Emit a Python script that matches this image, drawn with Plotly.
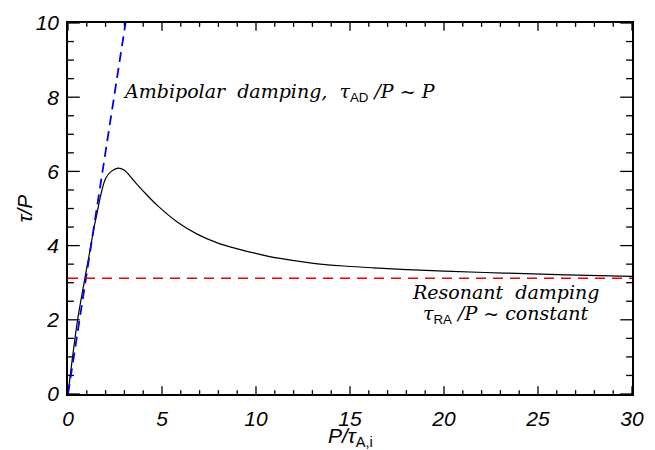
import plotly.graph_objects as go

# Data
curve_x = [0, 0.26, 0.52, 0.82, 1.13, 1.48, 2.0, 2.3, 2.66, 3.0, 3.5, 4.0, 4.78, 5.83,
           6.87, 7.91, 8.96, 10.0, 11.2, 12.96, 14.7, 16.26, 18.0, 20.0, 23.2, 26.5, 30.0]
curve_y = [0, 1.07, 2.03, 2.9, 3.76, 4.72, 5.81, 6.0, 6.09, 6.03, 5.75, 5.47, 5.07, 4.63,
           4.31, 4.08, 3.92, 3.79, 3.66, 3.53, 3.45, 3.40, 3.355, 3.31, 3.26, 3.21, 3.17]
ambipolar_x = [0, 3.06]
ambipolar_y = [0, 10]
resonant_x = [0, 30]
resonant_y = [3.12, 3.12]

x_range = [0, 30]
y_range = [0, 10]
x_major, x_minor = 5, 1
y_major, y_minor = 2, 0.5

SANS = "Liberation Sans"
SERIF = "DejaVu Serif"

W, H = 655, 450
M = dict(l=68, r=14, t=11, b=56)
px_per_x = (W - M["l"] - M["r"]) / (x_range[1] - x_range[0])
px_per_y = (H - M["t"] - M["b"]) / (y_range[1] - y_range[0])

fig = go.Figure()

# Inward tick marks on all four sides (IDL style), built from the axis ranges and tick steps
tx, ty = [], []
n_x = int(round((x_range[1] - x_range[0]) / x_minor))
for i in range(n_x + 1):
    v = x_range[0] + i * x_minor
    ln = (8 if i % int(x_major / x_minor) == 0 else 4) / px_per_y
    tx += [v, v, None, v, v, None]
    ty += [y_range[0], y_range[0] + ln, None, y_range[1], y_range[1] - ln, None]
n_y = int(round((y_range[1] - y_range[0]) / y_minor))
for i in range(n_y + 1):
    v = y_range[0] + i * y_minor
    ln = (12 if i % int(y_major / y_minor) == 0 else 6) / px_per_x
    tx += [x_range[0], x_range[0] + ln, None, x_range[1], x_range[1] - ln, None]
    ty += [v, v, None, v, v, None]
fig.add_trace(go.Scatter(x=tx, y=ty, mode="lines", line=dict(color="black", width=1.3),
                         hoverinfo="skip", cliponaxis=False, connectgaps=False))

fig.add_trace(go.Scatter(x=curve_x, y=curve_y, mode="lines",
                         line=dict(color="black", width=1.2, shape="spline", smoothing=1.0)))
fig.add_trace(go.Scatter(x=ambipolar_x, y=ambipolar_y, mode="lines",
                         line=dict(color="#0000ee", width=1.8, dash="10px,6px")))
fig.add_trace(go.Scatter(x=resonant_x, y=resonant_y, mode="lines",
                         line=dict(color="#ee0000", width=1.5, dash="10px,7px")))

tickfont = dict(family=SANS, size=21, style="italic", color="black")
common = dict(showgrid=False, zeroline=False, showline=True, mirror=True, linecolor="black",
              linewidth=1.5, ticks="", tickmode="linear", tick0=0, tickfont=tickfont)
fig.update_xaxes(range=x_range, dtick=x_major, ticklabelstandoff=5, **common)
fig.update_yaxes(range=y_range, dtick=y_major, ticklabelstandoff=3, **common)

sub = "<sub><span style='font-family:Liberation Sans;font-style:normal'>{}</span></sub>"
title_font = dict(family=SANS, size=21, style="italic", color="black")
fig.add_annotation(x=0.5, y=-0.115, xref="paper", yref="paper", xanchor="center", yanchor="middle",
                   text="P/τ" + sub.format("A,i"), showarrow=False, font=title_font)
fig.add_annotation(x=-0.078, y=0.5, xref="paper", yref="paper", xanchor="center", yanchor="middle",
                   text="τ/P", textangle=-90, showarrow=False, font=title_font)

sp = "&nbsp;"
ann_font = dict(family=SERIF, size=19, style="italic", color="black")
fig.add_annotation(x=2.8, y=8.13, xref="x", yref="y", xanchor="left", yanchor="middle",
                   text="Ambipolar" + sp + " damping," + sp + " τ" + sub.format("AD") + " /P ~ P",
                   showarrow=False, font=ann_font)
fig.add_annotation(x=23.28, y=2.74, xref="x", yref="y", xanchor="center", yanchor="middle",
                   text="Resonant" + sp + " damping", showarrow=False, font=ann_font)
fig.add_annotation(x=23.28, y=2.14, xref="x", yref="y", xanchor="center", yanchor="middle",
                   text="τ" + sub.format("RA") + " /P ~ constant", showarrow=False, font=ann_font)

fig.update_layout(width=W, height=H, plot_bgcolor="white", paper_bgcolor="white",
                  margin=M, showlegend=False)

fig.write_html("out.html")
